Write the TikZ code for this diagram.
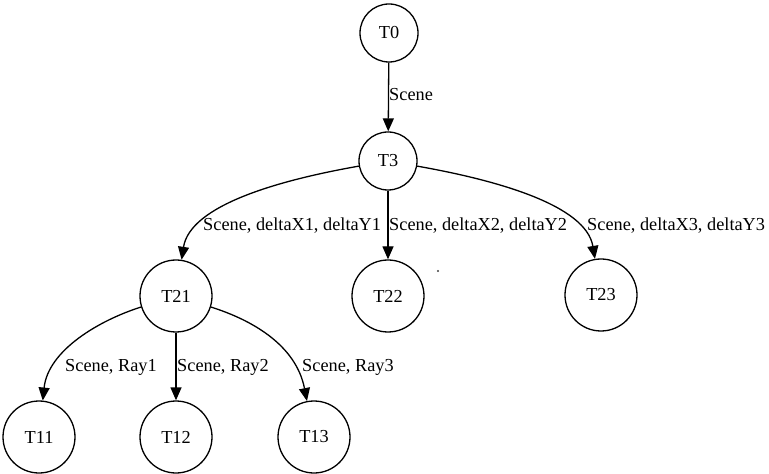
\documentclass[tikz,border=0pt]{standalone}
\usepackage{fontspec}
\setmainfont{Liberation Serif}
\usetikzlibrary{arrows.meta}
\begin{document}
\begin{tikzpicture}[x=1bp,y=-1bp,
  every node/.style={font=\fontsize{18.3bp}{22bp}\selectfont},
  smallstate/.style={draw, circle, line width=1.3bp, minimum size=58bp, inner sep=0pt},
  state/.style={draw, circle, line width=1.3bp, minimum size=72bp, inner sep=0pt},
  lbl/.style={anchor=base west, inner sep=0pt},
  edge/.style={line width=1.3bp, -{Triangle[length=13bp,width=11bp]}}]
  \useasboundingbox (0,0) rectangle (769,474);

  % nodes
  \node[smallstate] (t0)  at (389,33)  {T0};
  \node[smallstate] (t3)  at (388,161) {T3};
  \node[state] (t21) at (176,296) {T21};
  \node[state] (t22) at (388,296) {T22};
  \node[state] (t23) at (601,295) {T23};
  \node[state] (t11) at (39,437)  {T11};
  \node[state] (t12) at (176,437) {T12};
  \node[state] (t13) at (314,437) {T13};
  \fill[black!75] (438,271) circle[radius=1.1bp] coordinate (dot);

  % edges
  \draw[edge] (t0) -- (t3);
  \draw[edge] (t3) .. controls (280,180) and (190,205) .. (t21);
  \draw[edge] (t3) -- (t22);
  \draw[edge] (t3) .. controls (496,180) and (586,205) .. (t23);
  \draw[edge] (t21) .. controls (100,320) and (48,350) .. (t11);
  \draw[edge] (t21) -- (t12);
  \draw[edge] (t21) .. controls (252,320) and (296,345) .. (t13);

  % edge labels
  \node[lbl] (l03)   at (389,101)   {Scene};
  \node[lbl] (l321)  at (203,231)   {Scene, deltaX1, deltaY1};
  \node[lbl] (l322)  at (389,231)   {Scene, deltaX2, deltaY2};
  \node[lbl] (l323)  at (587,231)   {Scene, deltaX3, deltaY3};
  \node[lbl] (l2111) at (65,371.5)  {Scene, Ray1};
  \node[lbl] (l2112) at (177,371.5) {Scene, Ray2};
  \node[lbl] (l2113) at (302,371.5) {Scene, Ray3};
\end{tikzpicture}
\end{document}
